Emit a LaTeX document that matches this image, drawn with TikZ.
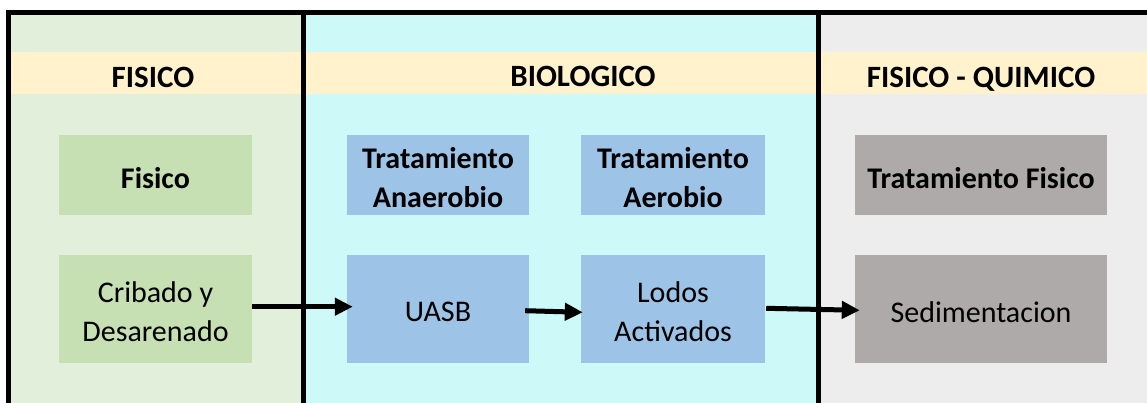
\documentclass[tikz,border=0pt]{standalone}
\usepackage{fontspec}
\setmainfont{Carlito}
\usetikzlibrary{arrows.meta}
\definecolor{pgreen}{HTML}{E2EFDA}
\definecolor{pcyan}{HTML}{CDF9F8}
\definecolor{pgray}{HTML}{EDEDED}
\definecolor{hband}{HTML}{FFF2CC}
\definecolor{bgreen}{HTML}{C6E0B4}
\definecolor{bblue}{HTML}{9DC3E6}
\definecolor{bgray}{HTML}{AEAAAA}
\tikzset{
  frameline/.style={line width=5pt},
  hdr/.style={anchor=base, font=\fontsize{31}{36}\selectfont\bfseries},
  boxbase/.style={minimum width=#1, inner sep=0pt},
  topbox/.style={boxbase=#1, minimum height=80pt},
  lowbox/.style={boxbase=#1, minimum height=108pt},
  toptxt/.style={align=center, inner sep=0pt, yshift=-3pt, font=\fontsize{30}{39}\selectfont\bfseries},
  lowtxt/.style={align=center, inner sep=0pt, yshift=-3pt, font=\fontsize{30}{39}\selectfont},
  arr/.style={line width=5pt, -{Triangle[length=18pt,width=17pt]}},
}
\begin{document}
\begin{tikzpicture}[x=1pt,y=-1pt]
\useasboundingbox (0,0) rectangle (1147,402);
\begin{scope}
\clip (0,0) rectangle (1147,402);
% panels
\fill[pgreen] (8.5,12.5) rectangle (303.5,410);
\fill[pcyan] (303.5,12.5) rectangle (818,410);
\fill[pgray] (818,12.5) rectangle (1155,410);
% header band
\fill[hband] (11,52) rectangle (1155,94);
% frame
\draw[frameline] (8.5,410) -- (8.5,12.5) -- (1155,12.5);
\draw[frameline] (303.5,12.5) -- (303.5,410);
\draw[frameline] (818,12.5) -- (818,410);
\end{scope}
% headers
\node[hdr] (h1) at (153,87) {FISICO};
\node[hdr] (h2) at (583,86) {BIOLOGICO};
\node[hdr] (h3) at (981,87) {FISICO - QUIMICO};
% top boxes
\node[topbox=193pt, fill=bgreen] (fis) at (155.5,175) {};
\node[topbox=182pt, fill=bblue] (anae) at (438,175) {};
\node[topbox=184pt, fill=bblue] (aero) at (673,175) {};
\node[topbox=252pt, fill=bgray] (tfis) at (981,175) {};
\node[toptxt] (fist) at (fis) {Fisico};
\node[toptxt] (anaet) at (anae) {Tratamiento\\Anaerobio};
\node[toptxt] (aerot) at (aero) {Tratamiento\\Aerobio};
\node[toptxt] (tfist) at (tfis) {Tratamiento Fisico};
% lower boxes
\node[lowbox=193pt, fill=bgreen] (crib) at (155.5,309) {};
\node[lowbox=182pt, fill=bblue] (uasb) at (438,309) {};
\node[lowbox=184pt, fill=bblue] (lodos) at (673,309) {};
\node[lowbox=252pt, fill=bgray] (sed) at (981,309) {};
\node[lowtxt] (cribt) at (crib) {Cribado y\\Desarenado};
\node[lowtxt] (uasbt) at (uasb) {UASB};
\node[lowtxt] (lodost) at (lodos) {Lodos\\Activados};
\node[lowtxt] (sedt) at (sed) {Sedimentacion};
% arrows
\draw[arr] ([yshift=2.3pt]crib.east) -- ([xshift=6pt,yshift=2.3pt]uasb.west);
\draw[arr] ([xshift=-4pt,yshift=-1.7pt]uasb.east) -- ([xshift=2pt,yshift=-3.3pt]lodos.west);
\draw[arr] ([xshift=1pt,yshift=0.7pt]lodos.east) -- ([xshift=5pt,yshift=-1.3pt]sed.west);
\end{tikzpicture}
\end{document}
